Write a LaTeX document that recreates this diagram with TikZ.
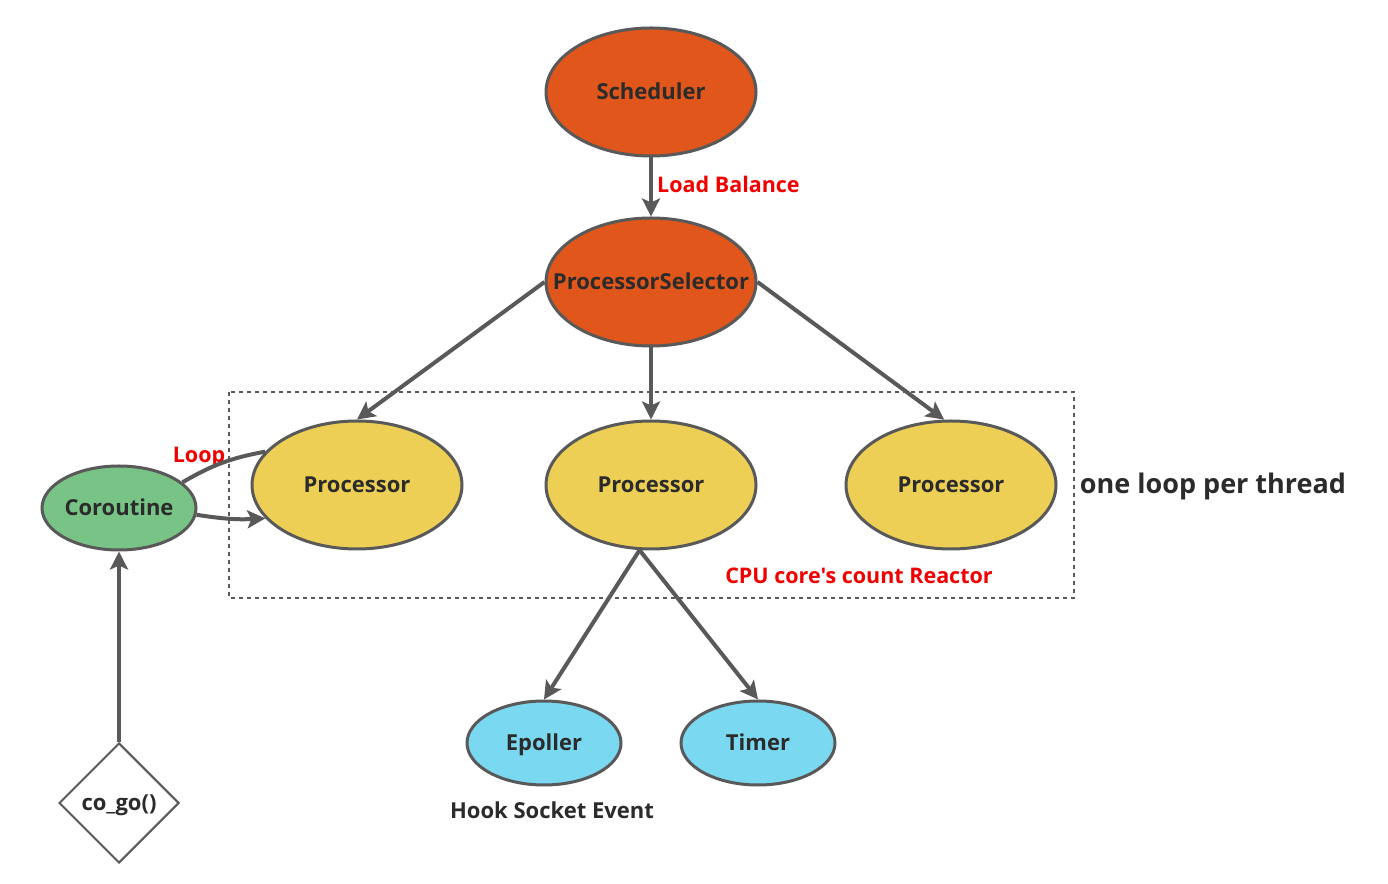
\documentclass[tikz,border=0pt]{standalone}
\usepackage{fontspec}
\setmainfont{Open Sans}
\newfontfamily\plainfont{Open Sans}
\usetikzlibrary{shapes.geometric,arrows.meta}
\definecolor{edgegray}{HTML}{595959}
\definecolor{txt}{HTML}{2B2B2B}
\definecolor{orangefill}{HTML}{E0561B}
\definecolor{yellowfill}{HTML}{EDCF55}
\definecolor{greenfill}{HTML}{77C486}
\definecolor{cyanfill}{HTML}{7AD8F0}
\definecolor{redtext}{HTML}{F00000}
\tikzset{
  big/.style={ellipse,draw=edgegray,line width=3pt,minimum width=210pt,minimum height=128pt,inner xsep=-30pt,inner ysep=0pt,text height=18pt,text depth=2.5pt,font=\fontsize{22}{26}\selectfont\bfseries,text=txt},
  small/.style={ellipse,draw=edgegray,line width=3pt,minimum width=154pt,minimum height=84pt,inner xsep=-20pt,inner ysep=0pt,text height=18pt,text depth=2.5pt,font=\fontsize{22}{26}\selectfont\bfseries,text=txt},
  conn/.style={draw=edgegray,line width=4pt,-{Stealth[length=18pt,width=18pt,inset=4pt]}},
  plainconn/.style={draw=edgegray,line width=4pt},
  redlab/.style={text=redtext,font=\fontsize{21.5}{26}\selectfont\bfseries,inner sep=0pt},
  darklab/.style={text=txt,font=\fontsize{22}{26}\selectfont\bfseries,inner sep=0pt},
}
\begin{document}
\begin{tikzpicture}[x=1pt,y=1pt]
\useasboundingbox[fill=white] (0,0) rectangle (1388,883);
% dashed frame
\draw[edgegray,line width=1.5pt,dash pattern=on 4pt off 4pt] (229,491) rectangle (1074,285);
% nodes
\node[big,fill=orangefill] (sch) at (651,791) {Scheduler};
\node[big,fill=orangefill] (ps) at (651,601) {ProcessorSelector};
\node[big,fill=yellowfill] (p1) at (357,398) {Processor};
\node[big,fill=yellowfill] (p2) at (651,398) {Processor};
\node[big,fill=yellowfill] (p3) at (951,398) {Processor};
\node[small,fill=greenfill] (cor) at (119,375) {Coroutine};
\node[small,fill=cyanfill] (ep) at (544,140) {Epoller};
\node[small,fill=cyanfill] (tm) at (758,140) {Timer};
\node[diamond,draw=edgegray,line width=2pt,minimum width=120pt,minimum height=120pt,inner sep=0pt,aspect=1,fill=white,text height=18pt,text depth=2.5pt,font=\fontsize{22}{26}\selectfont\bfseries,text=txt] (go) at (119,80) {co\_go()};
% labels
\node[redlab,anchor=west] (lb) at (657,699) {Load Balance};
\node[redlab] (loop) at (199,426) {Loop};
\node[redlab,font=\plainfont\fontsize{21.5}{26}\selectfont\bfseries] (cpu) at (859,307) {CPU core's count Reactor};
\node[darklab,font=\fontsize{27}{32}\selectfont\bfseries] (olpt) at (1213,397) {one loop per thread};
\node[darklab] (hook) at (552,73) {Hook Socket Event};
% connectors
\draw[conn] (sch.south) -- (ps.north);
\draw[conn] (ps.west) -- (p1.north);
\draw[conn] (ps.south) -- (p2.north);
\draw[conn] (ps.east) -- (p3.96);
\coordinate (p2b) at (p2.260);
\draw[conn] (p2b) -- (ep.north);
\draw[conn] (p2b) -- (tm.north);
\draw[plainconn] (cor.22) to[bend left=10] (p1.160);
\draw[conn] (cor.-5) to[bend right=6] (p1.200);
\draw[conn] (go.north) -- (cor.south);
\end{tikzpicture}
\end{document}
